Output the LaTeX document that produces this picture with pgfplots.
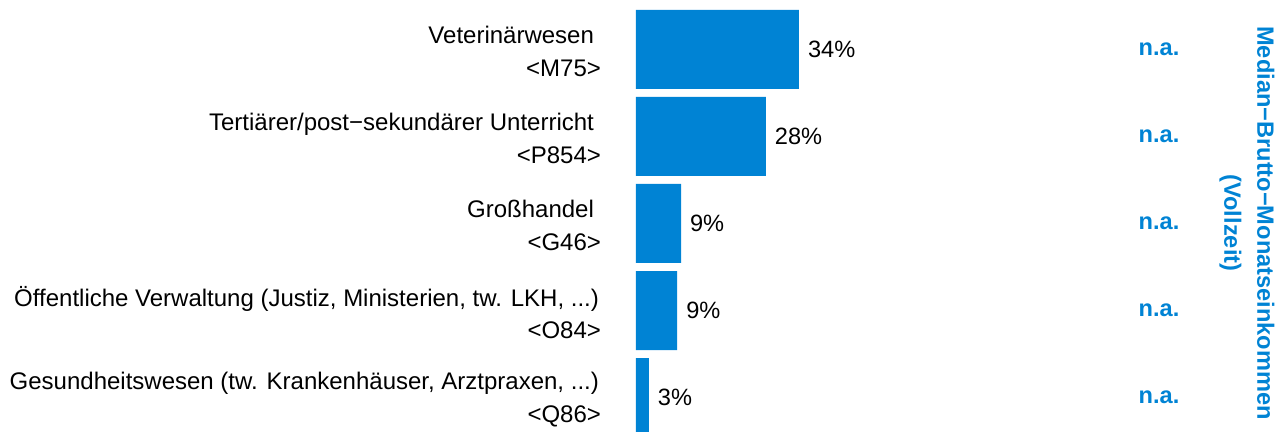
\documentclass[border=0pt]{standalone}
\usepackage{pgfplots}
\pgfplotsset{compat=1.18}
\usepackage{pgfplotstable}
\usetikzlibrary{calc}
\usepackage{fontspec}
\setmainfont{Liberation Sans}
\definecolor{barblue}{RGB}{0,131,212}
\newcommand\dd{...}
\newcommand\tsp{\kern3.5pt\relax}
\pgfplotstableread{
y val lab
0 34.0 34\%
1 27.1 28\%
2 9.4 9\%
3 8.6 9\%
4 2.7 3\%
}\datatab
\begin{document}
\begin{tikzpicture}
\begin{axis}[
  name=ax,
  scale only axis,
  width=323pt, height=216pt,
  xmin=0, xmax=134.75,
  ymin=-0.566, ymax=4.394,
  y dir=reverse,
  xbar, bar width=39.5pt,
  axis line style={draw=none},
  hide x axis,
  ytick={0,1,2,3,4},
  yticklabels={{Veterinärwesen\tsp\\<M75>},{Tertiärer/post−sekundärer Unterricht\tsp\\<P854>},{Großhandel\tsp\\<G46>},{Öffentliche Verwaltung (Justiz, Ministerien, tw. LKH, \dd)\kern1pt\relax\\<O84>},{Gesundheitswesen (tw. Krankenhäuser, Arztpraxen, \dd)\kern1pt\relax\\<Q86>}},
  yticklabel style={align=right, font=\fontsize{12pt}{16.3pt}\selectfont, xshift=-14pt, yshift=-1pt},
  major tick length=0pt,
  nodes near coords,
  point meta=explicit symbolic,
  nodes near coords style={anchor=west, font=\fontsize{11.8pt}{14pt}\selectfont, black, xshift=1pt},
  clip=true,
]
\addplot[fill=barblue, draw=none] table[x=val, y=y, meta=lab] {\datatab};
\end{axis}
\foreach \i in {0,...,4} {
  \path (ax.north west) ++(261.5pt,{-(49.3+87.1*\i)*0.5pt}) node[font=\bfseries\fontsize{11.8pt}{14pt}\selectfont, text=barblue] {n.a.};
}
\node[rotate=-90, align=center, font=\bfseries\fontsize{11.8pt}{16.5pt}\selectfont, text=barblue] at ($(ax.north west)+(305.5pt,-111.5pt)$) {Median−Brutto−Monatseinkommen\\(Vollzeit)};
\pgfresetboundingbox
\path (ax.south west) ++(-318pt,0) rectangle (ax.north east);
\end{tikzpicture}
\end{document}
